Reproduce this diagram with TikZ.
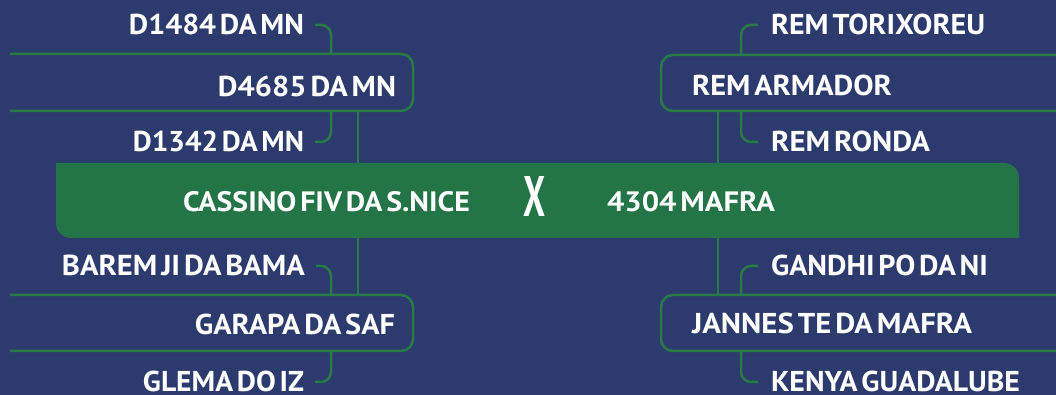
\documentclass[tikz,border=0pt]{standalone}
\usepackage{fontspec}
\setmainfont[WordSpace=0.5]{PT Sans}
\usepackage{graphicx}
\definecolor{bgnavy}{RGB}{44,58,110}
\definecolor{bargreen}{RGB}{35,116,71}
\definecolor{linegreen}{RGB}{40,122,70}
\newcommand\fitlbl[2]{\resizebox{#1}{20.5pt}{\bfseries #2}}
\newcommand\fitbar[2]{\resizebox{#1}{20pt}{\bfseries #2}}
\tikzset{
  lbl/.style={inner sep=0pt, outer sep=0pt, text=white, font=\bfseries},
  link/.style={draw=linegreen, line width=2.5pt, rounded corners=10pt},
  frame/.style={draw=linegreen, line width=2.5pt},
  hook/.style={inner sep=0pt, minimum size=0pt}
}
\begin{document}
\begin{tikzpicture}[x=1pt,y=1pt]
\useasboundingbox (0,0) rectangle (1056,395);
\fill[bgnavy] (0,0) rectangle (1056,395);

% central bar
\node[hook, minimum width=963pt, minimum height=75pt] (bar) at (537.5,194.5) {};
\fill[bargreen] (56,232) -- (1004,232) arc[start angle=90,end angle=0,radius=15]
  -- (1019,157) -- (71,157) arc[start angle=270,end angle=180,radius=15] -- cycle;
\node[lbl, anchor=base west] (home) at (183,183) {\fitbar{287pt}{CASSINO FIV DA S.NICE}};
\node[lbl, anchor=base] (vs) at (534,178) {\resizebox{22pt}{40pt}{\bfseries X}};
\node[lbl, anchor=base west] (away) at (607,183) {\fitbar{168pt}{4304 MAFRA}};

% left frames
\draw[frame] (10,341) -- (401,341) arc[start angle=90,end angle=0,radius=12]
  -- (413,296) arc[start angle=0,end angle=-90,radius=12] -- (10,284);
\draw[frame] (10,100) -- (401,100) arc[start angle=90,end angle=0,radius=12]
  -- (413,56) arc[start angle=0,end angle=-90,radius=12] -- (10,44);
% right frames
\draw[frame] (1056,340) -- (673,340) arc[start angle=90,end angle=180,radius=12]
  -- (661,296) arc[start angle=180,end angle=270,radius=12] -- (1056,284);
\draw[frame] (1056,100) -- (673,100) arc[start angle=90,end angle=180,radius=12]
  -- (661,56) arc[start angle=180,end angle=270,radius=12] -- (1056,44);

% frame hook points
\coordinate (lt-top) at (331,341);
\coordinate (lt-bot) at (331,284);
\coordinate (lb-top) at (331,100);
\coordinate (lb-bot) at (331,44);
\coordinate (rt-top) at (741,340);
\coordinate (rt-bot) at (741,284);
\coordinate (rb-top) at (741,100);
\coordinate (rb-bot) at (741,44);
\coordinate (ltrunk) at (358,284);
\coordinate (lbtrunk) at (358,100);
\coordinate (rtrunk) at (718,284);
\coordinate (rbtrunk) at (718,100);

% left labels
\node[lbl, anchor=base east] (d1484) at (304,360) {\fitlbl{175pt}{D1484 DA MN}};
\node[lbl, anchor=base east] (d4685) at (396,298) {\fitlbl{178pt}{D4685 DA MN}};
\node[lbl, anchor=base east] (d1342) at (304,243) {\fitlbl{171pt}{D1342 DA MN}};
\node[lbl, anchor=base east] (barem) at (305,119) {\fitlbl{243pt}{BAREM JI DA BAMA}};
\node[lbl, anchor=base east] (garapa) at (395,60) {\fitlbl{200pt}{GARAPA DA SAF}};
\node[lbl, anchor=base east] (glema) at (304,3) {\fitlbl{161pt}{GLEMA DO IZ}};
% right labels
\node[lbl, anchor=base west] (torix) at (771,360) {\fitlbl{214pt}{REM TORIXOREU}};
\node[lbl, anchor=base west] (armador) at (692,299) {\fitlbl{200pt}{REM ARMADOR}};
\node[lbl, anchor=base west] (ronda) at (771,243) {\fitlbl{159pt}{REM RONDA}};
\node[lbl, anchor=base west] (gandhi) at (771,119) {\fitlbl{217pt}{GANDHI PO DA NI}};
\node[lbl, anchor=base west] (jannes) at (692,61) {\fitlbl{280pt}{JANNES TE DA MAFRA}};
\node[lbl, anchor=base west] (kenya) at (771,3) {\fitlbl{249pt}{KENYA GUADALUBE}};

% branch connectors
\draw[link] ([xshift=11pt]d1484.east) -| (lt-top);
\draw[link] ([xshift=11pt]d1342.east) -| (lt-bot);
\draw[link] ([xshift=11pt]barem.east) -| (lb-top);
\draw[link] ([xshift=11pt]glema.east) -| (lb-bot);
\draw[link] ([xshift=-13pt]torix.west) -| (rt-top);
\draw[link] ([xshift=-13pt]ronda.west) -| (rt-bot);
\draw[link] ([xshift=-13pt]gandhi.west) -| (rb-top);
\draw[link] ([xshift=-13pt]kenya.west) -| (rb-bot);

% trunks
\draw[frame] (ltrunk) -- (ltrunk |- bar.north);
\draw[frame] (ltrunk |- bar.south) -- (lbtrunk);
\draw[frame] (rtrunk) -- (rtrunk |- bar.north);
\draw[frame] (rtrunk |- bar.south) -- (rbtrunk);
\end{tikzpicture}
\end{document}
